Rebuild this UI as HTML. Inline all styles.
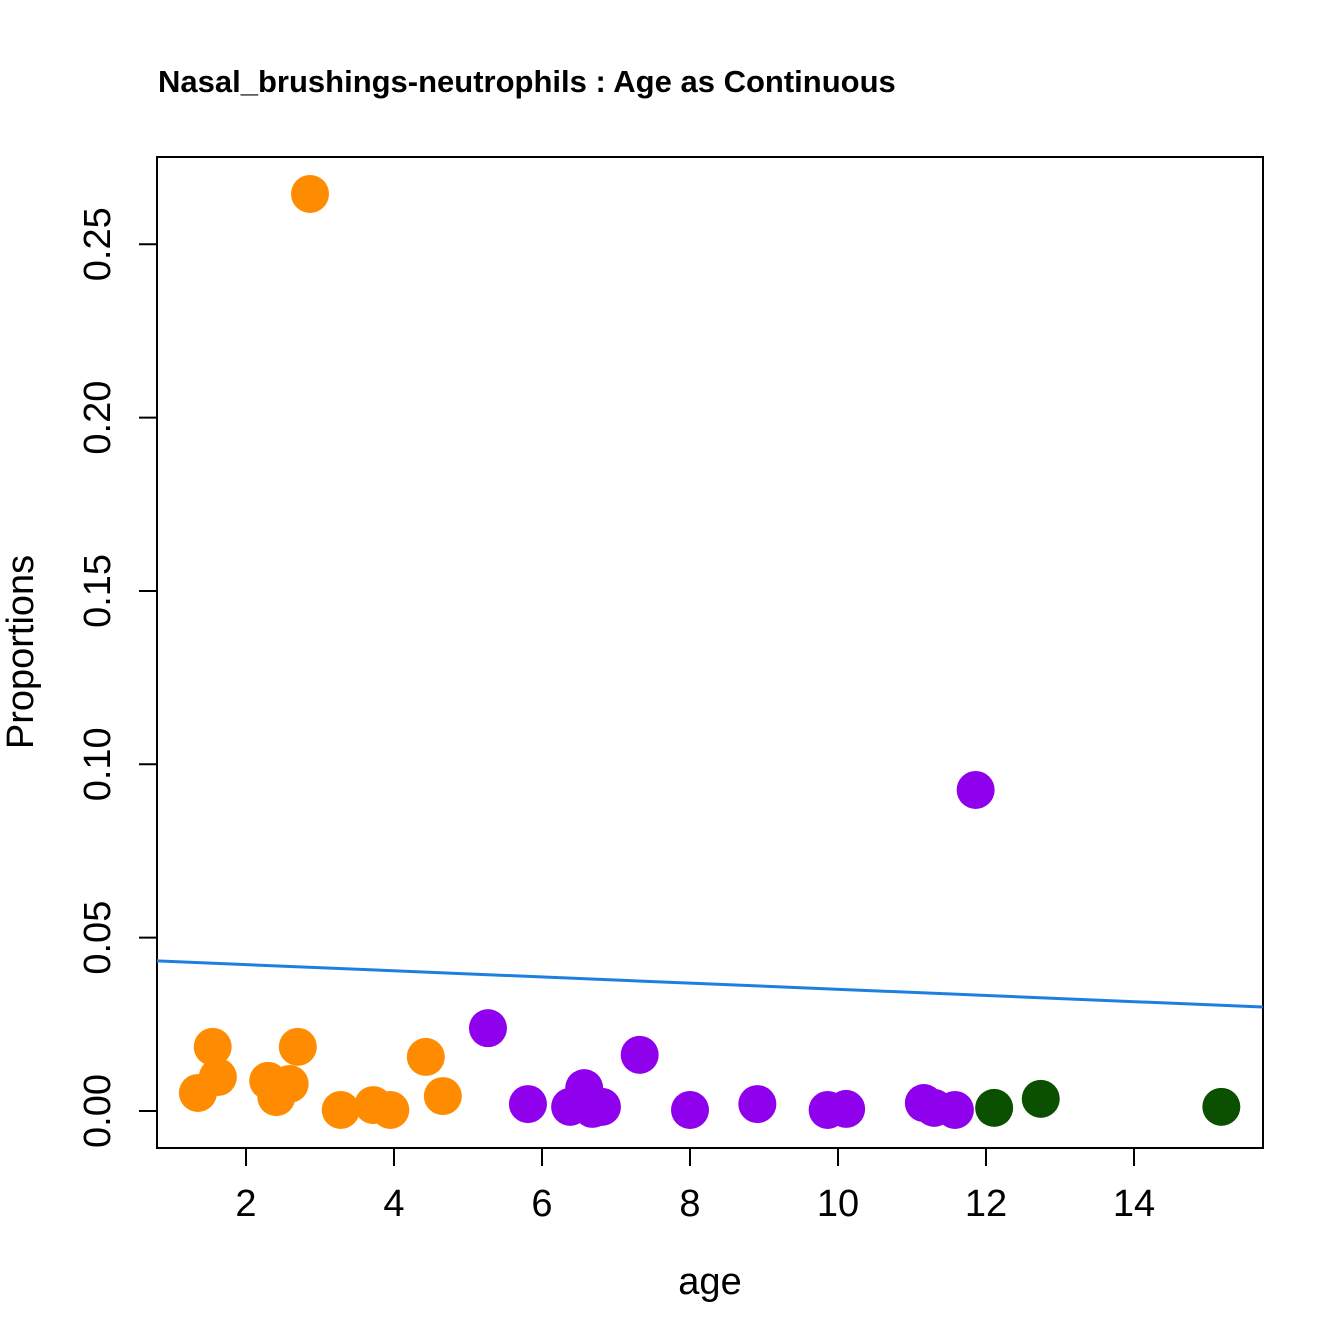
<!DOCTYPE html>
<html><head><meta charset="utf-8"><style>body{margin:0;background:#fff}svg{display:block;font-family:"Liberation Sans",Arial,sans-serif}</style></head>
<body>
<svg id="chart" width="1344" height="1344" viewBox="0 0 1344 1344">
<text x="158" y="92" font-size="31" font-weight="bold">Nasal_brushings-neutrophils : Age as Continuous</text>
<rect x="157" y="157" width="1106" height="991" fill="none" stroke="#000" stroke-width="2"/>
<g id="xaxis"></g>
<g id="yaxis"></g>
<text x="710" y="1294" font-size="38" text-anchor="middle">age</text>
<text transform="translate(33,652) rotate(-90)" font-size="38" text-anchor="middle">Proportions</text>
<g id="line"></g>
<g id="points"></g>
</svg>
<script>
const xTicks=[2,4,6,8,10,12,14];
const yTicks=[0,0.05,0.10,0.15,0.20,0.25];
const yTickLabels=["0.00","0.05","0.10","0.15","0.20","0.25"];
const orangeAge=[2.865,1.35,1.55,1.62,2.30,2.41,2.59,2.70,3.28,3.72,3.95,4.43,4.66];
const orangeProp=[0.2645,0.0052,0.0185,0.0098,0.0087,0.0040,0.0078,0.0185,0.0003,0.0017,0.0003,0.0156,0.0043];
const purpleAge=[5.27,5.81,6.38,6.57,6.68,6.81,7.32,8.0,8.91,9.86,10.11,11.16,11.30,11.58,11.86];
const purpleProp=[0.0239,0.0020,0.0012,0.0066,0.0006,0.0012,0.0162,0.0003,0.0020,0.0003,0.0006,0.0023,0.0009,0.0003,0.0926];
const greenAge=[12.11,12.74,15.18];
const greenProp=[0.0009,0.0035,0.0012];
const lineIntercept=0.0440, lineSlope=-0.00089;
const xMin=0.797,xMax=15.74;
const NS="http://www.w3.org/2000/svg";
const X=v=>246+(v-2)*74;
const Y=v=>1111-v*3467;
function mk(tag,attrs,parent){const e=document.createElementNS(NS,tag);for(const k in attrs)e.setAttribute(k,attrs[k]);parent.appendChild(e);return e;}
const xa=document.getElementById('xaxis'),ya=document.getElementById('yaxis');
mk('line',{x1:X(2),x2:X(14),y1:1148,y2:1148,stroke:'#000','stroke-width':2},xa);
xTicks.forEach(t=>{
 const l=mk('line',{x1:X(t),x2:X(t),y1:1148,y2:1166,stroke:'#000','stroke-width':2},xa);
 
 
 const tx=mk('text',{x:X(t),y:1216,'font-size':38,'text-anchor':'middle'},xa);tx.textContent=t;
 
 
});
mk('line',{x1:157,x2:157,y1:Y(0),y2:Y(0.25),stroke:'#000','stroke-width':2},ya);
yTicks.forEach((t,i)=>{
 const l=mk('line',{x1:139,x2:157,y1:Y(t),y2:Y(t),stroke:'#000','stroke-width':2},ya);
 
 
 const tx=mk('text',{transform:`translate(110,${Y(t)}) rotate(-90)`,'font-size':38,'text-anchor':'middle'},ya);tx.textContent=yTickLabels[i];
 
 
});
const lg=document.getElementById('line');
const ln=mk('line',{x1:X(xMin),x2:X(xMax),y1:Y(lineIntercept+lineSlope*xMin),y2:Y(lineIntercept+lineSlope*xMax),stroke:'#1E7FE0','stroke-width':3},lg);


const pg=document.getElementById('points');
function pts(a,p,c,n){a.forEach((v,i)=>{const e=mk('circle',{cx:X(v),cy:Y(p[i]),r:19,fill:c},pg);
 
 });}
pts(orangeAge,orangeProp,'#FF8C00','point-orange');
pts(purpleAge,purpleProp,'#8F00EC','point-purple');
pts(greenAge,greenProp,'#0A5000','point-green');
</script>
</body></html>
